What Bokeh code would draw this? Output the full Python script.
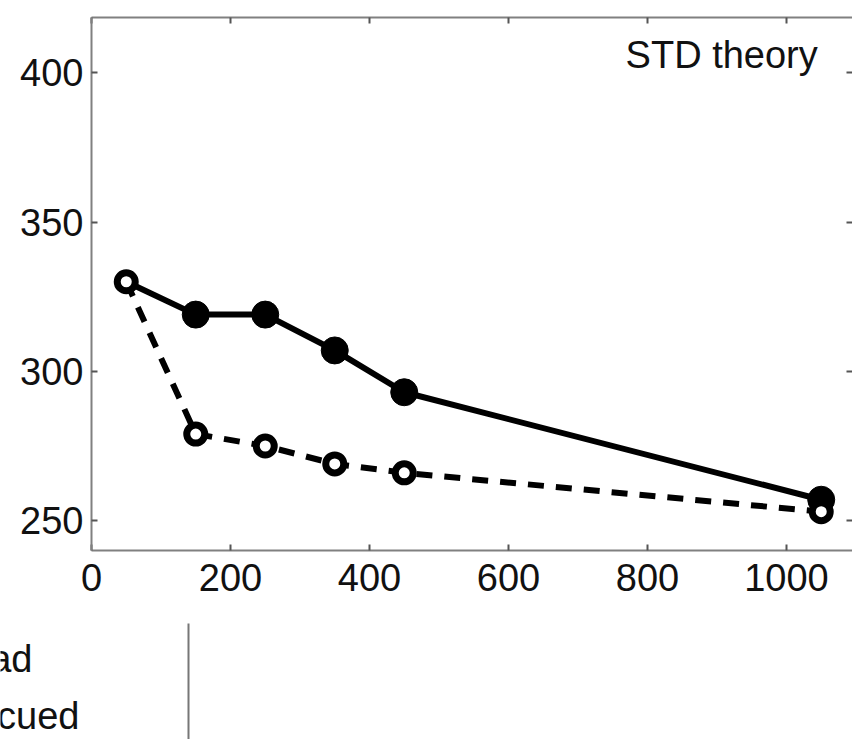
from bokeh.plotting import figure
from bokeh.models import Range1d, FixedTicker, LinearAxis, Label
from bokeh.layouts import column, row
from bokeh.embed import file_html
from bokeh.resources import INLINE
from bokeh.core.properties import value

# ---- data ----
delay = [50, 150, 250, 350, 450, 1050]
std_solid = [330, 319, 319, 307, 293, 257]
std_dashed = [330, 279, 275, 269, 266, 253]
x_ticks = [0, 200, 400, 600, 800, 1000]
y_ticks = [250, 300, 350, 400]
legend_labels = ["ad", "cued"]
panel_label = "STD theory"

FONT = "Liberation Sans"
FS = "38px"
AX_COLOR = "#808080"
TOP_H = 605

p = figure(width=852, height=TOP_H,
           x_range=Range1d(0, 1095), y_range=Range1d(240, 418.5),
           output_backend="svg", toolbar_location=None,
           x_axis_location=None, y_axis_location=None,
           min_border_left=91, min_border_top=17, min_border_right=0,
           min_border_bottom=TOP_H - 550)
p.grid.visible = False
p.outline_line_color = None
p.background_fill_color = "white"
p.border_fill_color = "white"


def make_axis(ticks, labels=True, line=True, standoff=8):
    ax = LinearAxis(ticker=FixedTicker(ticks=ticks))
    ax.major_tick_in = 6
    ax.major_tick_out = 0
    ax.minor_tick_in = 0
    ax.minor_tick_out = 0
    ax.major_tick_line_color = "#555555"
    ax.major_tick_line_width = 2
    ax.axis_line_color = AX_COLOR if line else None
    ax.axis_line_width = 2
    if labels:
        ax.major_label_text_font = FONT
        ax.major_label_text_font_size = FS
        ax.major_label_text_color = "#111111"
        ax.major_label_standoff = standoff
    else:
        ax.major_label_overrides = {t: "" for t in ticks}
        ax.major_label_standoff = 0
    return ax


p.add_layout(make_axis(y_ticks, standoff=8), "left")
p.add_layout(make_axis(x_ticks, standoff=13), "below")
p.add_layout(make_axis(x_ticks, labels=False), "above")
p.add_layout(make_axis(y_ticks, labels=False, line=False), "right")

# solid series
p.line(delay, std_solid, line_width=6, line_color="black")
p.scatter(delay[1:], std_solid[1:], marker="circle", size=27,
          fill_color="black", line_color="black")
# dashed series
p.line(delay, std_dashed, line_width=6, line_color="black", line_dash="16 12")
p.scatter(delay, std_dashed, marker="circle", size=18,
          fill_color="white", line_color="black", line_width=7)

p.add_layout(Label(x=1045, y=405.8, text=panel_label, text_align="right",
                   text_baseline="alphabetic", text_font=FONT,
                   text_font_size=FS, text_color="#111111"))

# partial legend area below (page-pixel coordinates, y downward)
H2 = 739 - TOP_H
p2 = figure(width=852, height=H2, x_range=Range1d(0, 852),
            y_range=Range1d(739, TOP_H),
            output_backend="svg", toolbar_location=None,
            x_axis_location=None, y_axis_location=None, min_border=0)
p2.grid.visible = False
p2.outline_line_color = None
p2.background_fill_color = "white"
p2.border_fill_color = "white"
p2.text(x=[32, 79], y=[658, 715], text=legend_labels, text_align="right",
        text_baseline="alphabetic", text_font=value(FONT), text_font_size=FS,
        text_color="#111111")
p2.segment(x0=[188], y0=[623], x1=[188], y1=[739], line_color="#777777", line_width=2)

layout = column(p, row(p2), spacing=0)
open("out.html", "w").write(file_html(layout, INLINE))
